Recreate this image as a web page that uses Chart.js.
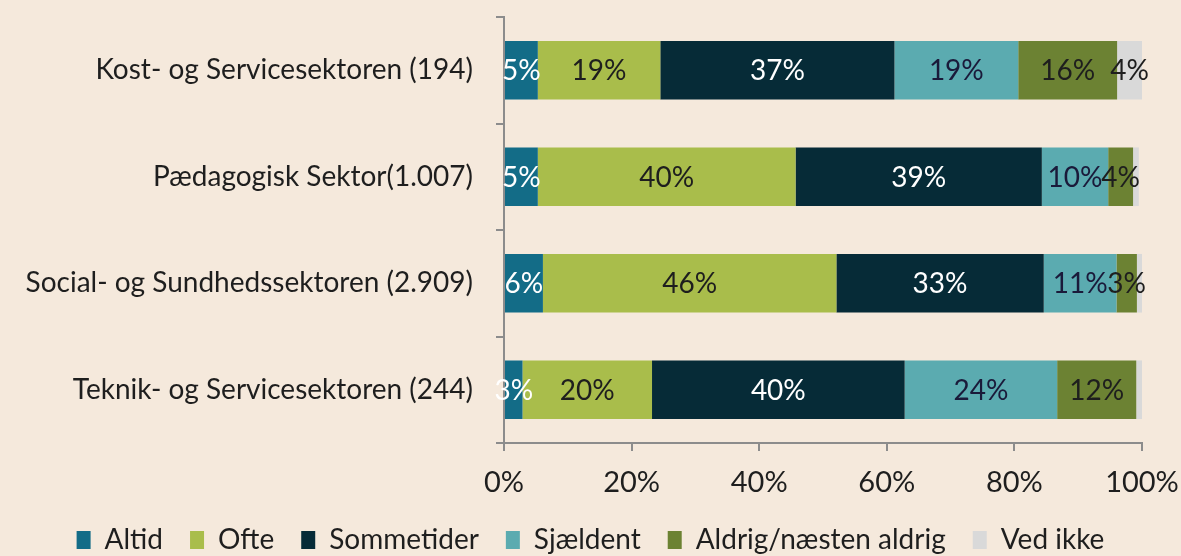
<!DOCTYPE html>
<html>
<head>
<meta charset="utf-8">
<script src="https://cdn.jsdelivr.net/npm/chart.js@4/dist/chart.umd.min.js"></script>
<style>
  body { margin: 0; background: #f5e9dc; }
  #wrap { position: relative; width: 1181px; height: 556px; }
</style>
</head>
<body>
<div id="wrap"><canvas id="chart"></canvas></div>
<script>
const sectors = ['Kost- og Servicesektoren (194)', 'Pædagogisk Sektor(1.007)', 'Social- og Sundhedssektoren (2.909)', 'Teknik- og Servicesektoren (244)'];
const answers = ['Altid', 'Ofte', 'Sommetider', 'Sjældent', 'Aldrig/næsten aldrig', 'Ved ikke'];
const altid = [5.3, 5.3, 6.1, 2.9];
const ofte = [19.2, 40.4, 46.0, 20.3];
const sommetider = [36.7, 38.6, 32.5, 39.6];
const sjaeldent = [19.4, 10.4, 11.4, 23.9];
const aldrig = [15.5, 3.9, 3.2, 12.4];
const vedIkke = [3.9, 0.9, 0.8, 0.9];
const xTicks = [0, 20, 40, 60, 80, 100];

const colors = ['#136c87', '#a9bd4b', '#062b37', '#5babb0', '#6c8233', '#d9d9d9'];
const labelColors = ['#ffffff', '#1e1e1e', '#ffffff', '#1a1a3a', '#1e1e1e', '#1e1e1e'];
const FONT = 'Lato, "DejaVu Sans Condensed", sans-serif';

const series = [altid, ofte, sommetider, sjaeldent, aldrig, vedIkke];

const bgPlugin = {
    id: 'bg',
    beforeDraw(chart) {
        const c = chart.ctx;
        c.save();
        c.fillStyle = '#f5e9dc';
        c.fillRect(0, 0, chart.width, chart.height);
        c.restore();
    }
};

// percent labels in the middle of each segment
const valueLabels = {
    id: 'valueLabels',
    afterDatasetsDraw(chart) {
        const c = chart.ctx;
        c.save();
        c.font = '28px ' + FONT;
        c.textAlign = 'center';
        c.textBaseline = 'middle';
        chart.data.datasets.forEach((ds, i) => {
            const meta = chart.getDatasetMeta(i);
            meta.data.forEach((el, j) => {
                const v = ds.data[j];
                if (v < 2) return;
                const p = el.getCenterPoint();
                c.fillStyle = labelColors[i];
                c.fillText(Math.round(v) + '%', p.x, p.y + 1);
            });
        });
        c.restore();
    }
};

new Chart(document.getElementById('chart'), {
    type: 'bar',
    data: {
        labels: sectors,
        datasets: answers.map((a, i) => ({
            label: a,
            data: series[i],
            backgroundColor: colors[i],
            borderWidth: 0,
            categoryPercentage: 1,
            barPercentage: 0.55
        }))
    },
    options: {
        indexAxis: 'y',
        responsive: true,
        maintainAspectRatio: false,
        animation: false,
        layout: { padding: { top: 0, right: 0, left: 0, bottom: -8 } },
        plugins: {
            tooltip: { enabled: false },
            legend: {
                position: 'bottom',
                labels: {
                    font: { family: FONT, size: 28 },
                    color: '#1e1e1e',
                    boxWidth: 14,
                    boxHeight: 18,
                    padding: 27
                }
            }
        },
        scales: {
            x: {
                stacked: true,
                min: 0,
                max: 100,
                afterBuildTicks(scale) {
                    scale.ticks = xTicks.map(v => ({ value: v }));
                },
                afterFit(scale) {
                    scale.height = 56;
                    scale.paddingLeft = 0;
                    scale.paddingRight = 39;
                },
                ticks: {
                    callback: v => v + '%',
                    font: { family: FONT, size: 29 },
                    color: '#1e1e1e',
                    padding: 14,
                    maxRotation: 0
                },
                grid: { drawOnChartArea: false, color: '#8c8c8c', tickLength: 8, lineWidth: 2 },
                border: { color: '#8c8c8c', width: 2 }
            },
            y: {
                stacked: true,
                afterFit(scale) {
                    scale.width = 504;
                    scale.paddingTop = 17;
                    scale.paddingBottom = 0;
                },
                ticks: {
                    font: { family: FONT, size: 28 },
                    color: '#1e1e1e',
                    padding: 23
                },
                grid: { drawOnChartArea: false, offset: true, color: '#8c8c8c', tickLength: 8, lineWidth: 2 },
                border: { color: '#8c8c8c', width: 2 }
            }
        }
    },
    plugins: [bgPlugin, valueLabels]
});
</script>
</body>
</html>
